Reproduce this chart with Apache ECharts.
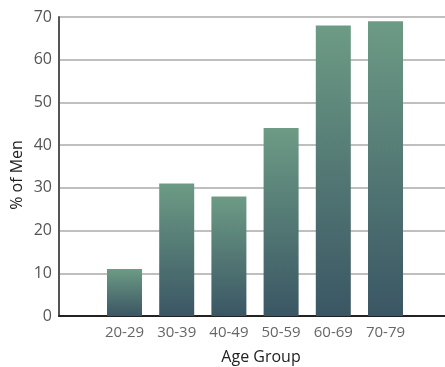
<!DOCTYPE html>
<html>
<head>
<meta charset="utf-8">
<script src="https://cdn.jsdelivr.net/npm/echarts@6/dist/echarts.min.js"></script>
<style>
  html, body { margin: 0; padding: 0; background: #fff; }
  #chart { width: 445px; height: 367px; }
</style>
</head>
<body>
<div id="chart"></div>
<script>
// Share of men by age group
const ageGroups = ['20-29', '30-39', '40-49', '50-59', '60-69', '70-79'];
const percentMen = [11, 31, 28, 44, 68, 69];
const yTicks = { min: 0, max: 70, step: 10 };

const chart = echarts.init(document.getElementById('chart'));
const FONT = '"Open Sans", "DejaVu Sans", sans-serif';

chart.setOption({
  animation: false,
  grid: [
    // frame with horizontal rules and axis lines
    { left: 59, right: 0, top: 17, bottom: 51 },
    // bar area
    { left: 98.4, right: 33.4, top: 17, bottom: 51 }
  ],
  xAxis: [
    {
      gridIndex: 0, type: 'category', data: [''],
      axisLine: { show: true, lineStyle: { color: '#222', width: 2 } },
      axisTick: { show: false }, axisLabel: { show: false }, splitLine: { show: false }
    },
    {
      gridIndex: 1, type: 'category', data: ageGroups,
      axisLine: { show: false }, axisTick: { show: false },
      axisLabel: { color: '#666', fontSize: 15, fontFamily: FONT, margin: 9 }
    }
  ],
  yAxis: [
    {
      gridIndex: 0, type: 'value', min: yTicks.min, max: yTicks.max, interval: yTicks.step,
      axisLine: { show: true, lineStyle: { color: '#555', width: 2 } },
      axisTick: { show: false },
      axisLabel: { color: '#555', fontSize: 16, fontFamily: FONT, margin: 7 },
      splitLine: { show: true, lineStyle: { color: '#aaa', width: 1.5 } }
    },
    {
      gridIndex: 1, type: 'value', min: yTicks.min, max: yTicks.max, interval: yTicks.step,
      show: false, splitLine: { show: false }
    }
  ],
  series: [{
    type: 'bar',
    xAxisIndex: 1, yAxisIndex: 1,
    data: percentMen,
    barWidth: 35,
    itemStyle: {
      color: new echarts.graphic.LinearGradient(0, 0, 0, 1, [
        { offset: 0, color: '#6d9b85' },
        { offset: 1, color: '#3a5664' }
      ])
    }
  }],
  graphic: [
    {
      type: 'text', x: 261, y: 357,
      style: { text: 'Age Group', font: '16px ' + FONT, fill: '#222', align: 'center', verticalAlign: 'middle' }
    },
    {
      type: 'text', x: 17, y: 175, rotation: Math.PI / 2, originX: 0, originY: 0,
      style: { text: '% of Men', font: '16px ' + FONT, fill: '#222', align: 'center', verticalAlign: 'middle' }
    }
  ]
});
</script>
</body>
</html>
